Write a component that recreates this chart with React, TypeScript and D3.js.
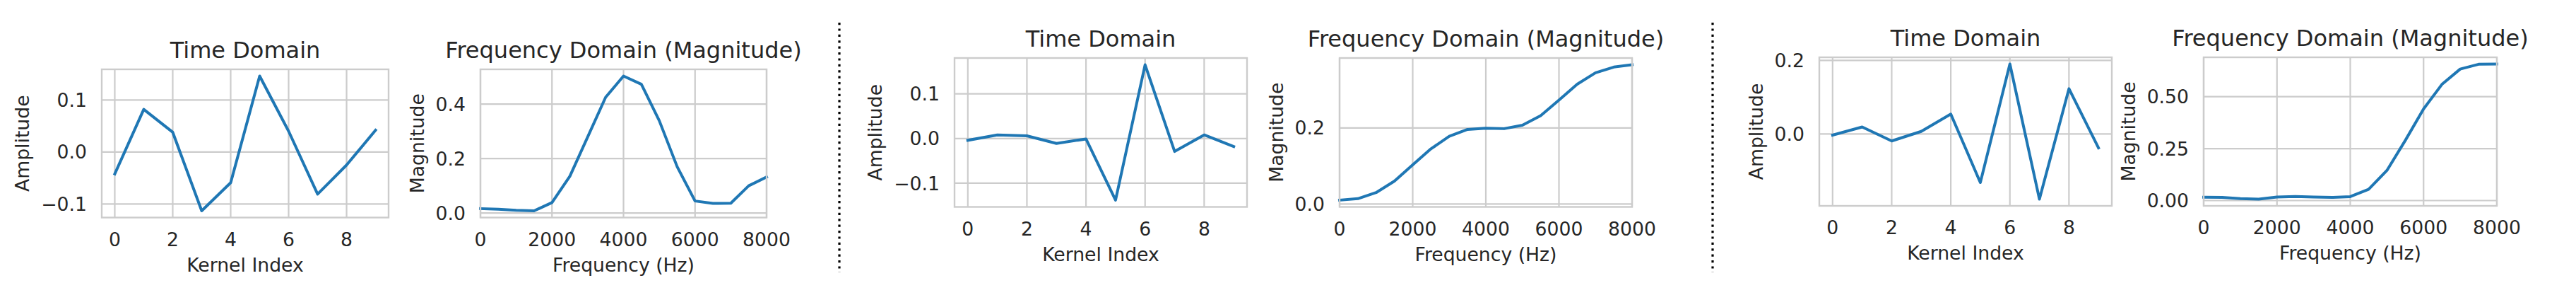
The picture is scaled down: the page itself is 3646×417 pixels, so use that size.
import React from 'react';
import * as d3 from 'd3';

// kernel taps and FFT bin centres
const kernelIndex = [0, 1, 2, 3, 4, 5, 6, 7, 8, 9];
const freqHz = [0, 500, 1000, 1500, 2000, 2500, 3000, 3500, 4000, 4500, 5000, 5500, 6000, 6500, 7000, 7500, 8000];

// band-pass kernel
const time1 = [-0.042, 0.082, 0.038, -0.113, -0.059, 0.146, 0.040, -0.081, -0.025, 0.042];
const mag1 = [0.016, 0.014, 0.010, 0.008, 0.038, 0.135, 0.280, 0.425, 0.503, 0.473, 0.339, 0.170, 0.044, 0.035, 0.036, 0.100, 0.132];

// high-ish kernel
const time2 = [-0.004, 0.008, 0.006, -0.011, -0.001, -0.138, 0.165, -0.029, 0.008, -0.018];
const mag2 = [0.010, 0.014, 0.030, 0.060, 0.103, 0.145, 0.178, 0.196, 0.199, 0.198, 0.207, 0.232, 0.273, 0.315, 0.345, 0.360, 0.366];

// high-pass kernel
const time3 = [-0.003, 0.019, -0.019, 0.007, 0.054, -0.132, 0.190, -0.177, 0.123, -0.038];
const mag3 = [0.016, 0.015, 0.009, 0.007, 0.017, 0.020, 0.017, 0.015, 0.019, 0.054, 0.145, 0.289, 0.441, 0.559, 0.633, 0.656, 0.657];

const timeTicks = [0, 2, 4, 6, 8];
const freqTicks = [0, 2000, 4000, 6000, 8000];

const W = 3646;
const H = 417;
const FONT = '"DejaVu Sans", sans-serif';
const TXT = '#262626';
const GRID = '#cccccc';
const BLUE = '#1f77b4';
const TICK_FS = 26.67;
const LABEL_FS = 26.67;
const TITLE_FS = 32;

const panels = [
  { x0: 144, x1: 550, y0: 98, y1: 307.5, kind: 'time', ys: time1, yTicks: [-0.1, 0, 0.1], fmt: '.1f' },
  { x0: 680, x1: 1085, y0: 98, y1: 307.5, kind: 'freq', ys: mag1, yTicks: [0, 0.2, 0.4], fmt: '.1f' },
  { x0: 1351, x1: 1765, y0: 82, y1: 292.5, kind: 'time', ys: time2, yTicks: [-0.1, 0, 0.1], fmt: '.1f' },
  { x0: 1896, x1: 2310, y0: 82, y1: 292.5, kind: 'freq', ys: mag2, yTicks: [0, 0.2], fmt: '.1f' },
  { x0: 2575, x1: 2989, y0: 81, y1: 291, kind: 'time', ys: time3, yTicks: [0, 0.2], fmt: '.1f' },
  { x0: 3119, x1: 3534, y0: 81, y1: 291, kind: 'freq', ys: mag3, yTicks: [0, 0.25, 0.5], fmt: '.2f' },
];

const separators = [1188, 2424];

// rough DejaVu Sans advance widths, for placing the y label like matplotlib does
function textWidth(s: string, fs: number) {
  let w = 0;
  for (const c of s) {
    if (c === '.') w += 0.318;
    else if (c === '\u2212' || c === '-') w += 0.838;
    else w += 0.636;
  }
  return w * fs;
}

function pad(ext: [number, number]): [number, number] {
  const m = (ext[1] - ext[0]) * 0.05;
  return [ext[0] - m, ext[1] + m];
}

function Panel({ p }: { p: any }) {
  const isTime = p.kind === 'time';
  const xs = isTime ? kernelIndex : freqHz;
  const xDomain: [number, number] = isTime ? pad(d3.extent(xs) as [number, number]) : [0, 8000];
  const x = d3.scaleLinear().domain(xDomain).range([p.x0, p.x1]);
  const y = d3.scaleLinear().domain(pad(d3.extent(p.ys as number[]) as [number, number])).range([p.y1, p.y0]);
  const xTicks = isTime ? timeTicks : freqTicks;
  const fmt = d3.format(p.fmt);
  const line = d3.line<number>().x((_, i) => x(xs[i])).y((d) => y(d));

  const maxTickW = d3.max(p.yTicks as number[], (t) => textWidth(fmt(t), TICK_FS)) || 0;
  const ylabX = p.x0 - 21 - maxTickW - 10.7 - 6.3;
  const cx = (p.x0 + p.x1) / 2;
  const cy = (p.y0 + p.y1) / 2;

  return (
    <g>
      {xTicks.map((t) => (
        <line key={'gx' + t} x1={x(t)} x2={x(t)} y1={p.y0} y2={p.y1} stroke={GRID} strokeWidth={2.2} />
      ))}
      {p.yTicks.map((t: number) => (
        <line key={'gy' + t} x1={p.x0} x2={p.x1} y1={y(t)} y2={y(t)} stroke={GRID} strokeWidth={2.2} />
      ))}
      <path d={line(p.ys) || ''} fill="none" stroke={BLUE} strokeWidth={4} strokeLinejoin="round" strokeLinecap="square" />
      <rect x={p.x0} y={p.y0} width={p.x1 - p.x0} height={p.y1 - p.y0} fill="none" stroke={GRID} strokeWidth={2.4} />
      {xTicks.map((t) => (
        <text key={'tx' + t} x={x(t)} y={p.y1 + 40} textAnchor="middle" fontSize={TICK_FS} fill={TXT}>
          {String(t)}
        </text>
      ))}
      {p.yTicks.map((t: number) => (
        <text key={'ty' + t} x={p.x0 - 21} y={y(t)} dy="0.36em" textAnchor="end" fontSize={TICK_FS} fill={TXT}>
          {fmt(t)}
        </text>
      ))}
      <text x={cx} y={p.y1 + 76} textAnchor="middle" fontSize={LABEL_FS} fill={TXT}>
        {isTime ? 'Kernel Index' : 'Frequency (Hz)'}
      </text>
      <text transform={`translate(${ylabX},${cy}) rotate(-90)`} textAnchor="middle" fontSize={LABEL_FS} fill={TXT}>
        {isTime ? 'Amplitude' : 'Magnitude'}
      </text>
      <text x={cx} y={p.y0 - 16} textAnchor="middle" fontSize={TITLE_FS} fill={TXT}>
        {isTime ? 'Time Domain' : 'Frequency Domain (Magnitude)'}
      </text>
    </g>
  );
}

export default function App() {
  return (
    <svg
      width={W}
      height={H}
      style={{ position: 'absolute', left: 0, top: 0, background: '#ffffff' }}
      fontFamily={FONT}
    >
      <rect x={0} y={0} width={W} height={H} fill="#ffffff" />
      {panels.map((p, i) => (
        <Panel key={i} p={p} />
      ))}
      {separators.map((sx) => (
        <line key={sx} x1={sx} x2={sx} y1={32} y2={385} stroke="#000000" strokeWidth={3.2} strokeDasharray="3.2 5.2" />
      ))}
    </svg>
  );
}
